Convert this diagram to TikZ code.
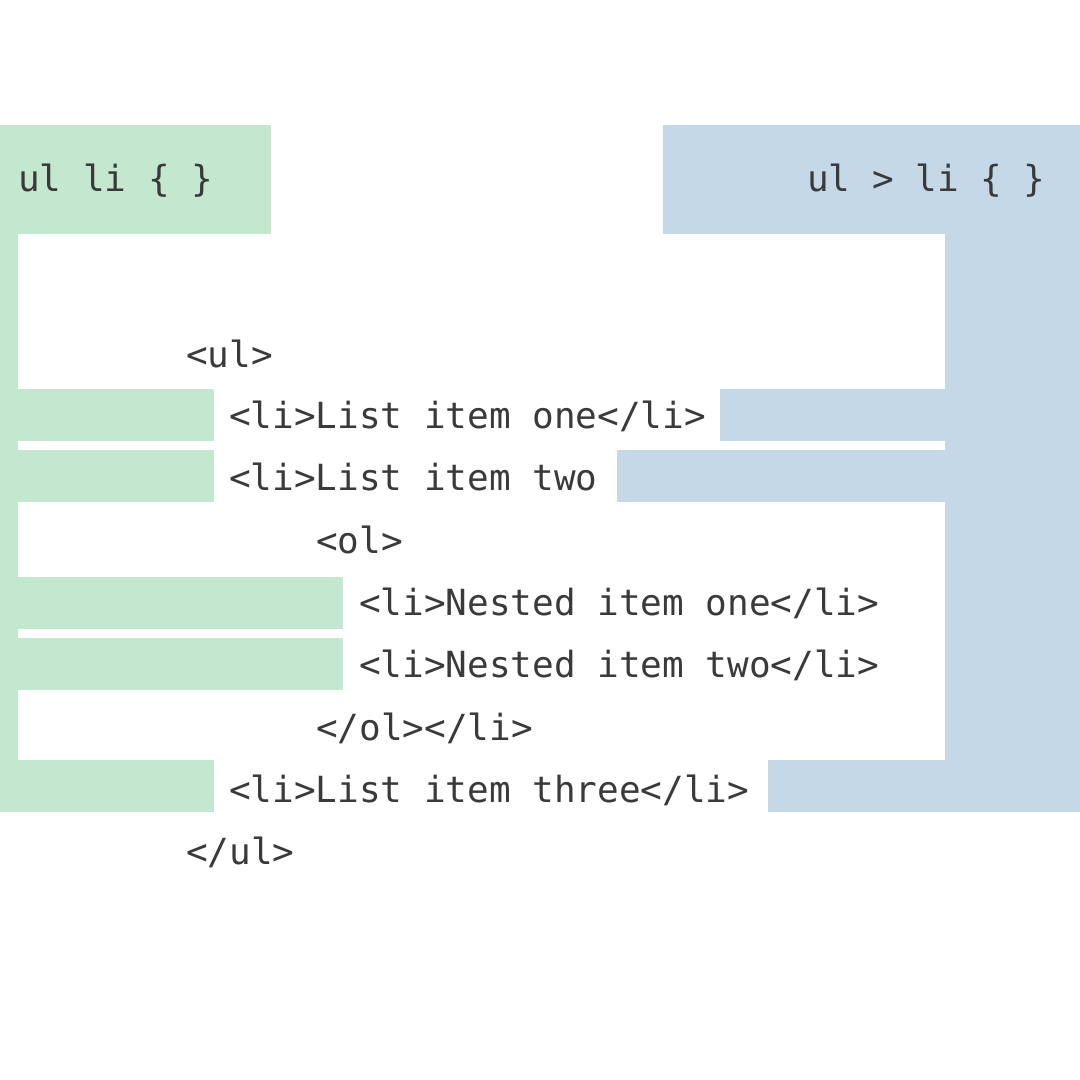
\documentclass[tikz,border=0pt]{standalone}
\usepackage{fontspec}
\setmonofont{DejaVu Sans Mono}
\definecolor{selgreen}{HTML}{C4E7CF}
\definecolor{selblue}{HTML}{C5D8E8}
\definecolor{codegray}{HTML}{3A3A3A}
\tikzset{
  greenarea/.style={fill=selgreen, draw=none},
  bluearea/.style={fill=selblue, draw=none},
  code/.style={anchor=base west, inner sep=0pt, outer sep=0pt, text=codegray,
    font=\ttfamily\fontsize{36}{40}\selectfont},
}
\begin{document}
\begin{tikzpicture}[x=1pt,y=-1pt]
\useasboundingbox (0,0) rectangle (1080,1080);
\fill[white] (0,0) rectangle (1080,1080);
% green (descendant selector)
\fill[greenarea] (0,125) rectangle (271,234);
\fill[greenarea] (0,234) rectangle (18,812);
\fill[greenarea] (18,389) rectangle (214,441);
\fill[greenarea] (18,450) rectangle (214,502);
\fill[greenarea] (18,577) rectangle (343,629);
\fill[greenarea] (18,638) rectangle (343,690);
\fill[greenarea] (18,760) rectangle (214,812);
% blue (child selector)
\fill[bluearea] (663,125) rectangle (1080,234);
\fill[bluearea] (945,234) rectangle (1080,812);
\fill[bluearea] (720,389) rectangle (945,441);
\fill[bluearea] (617,450) rectangle (945,502);
\fill[bluearea] (768,760) rectangle (945,812);
% headers
\node[code] (sel1) at (18,191) {ul li \{ \}};
\node[code] (sel2) at (807,191) {ul > li \{ \}};
% code lines
\node[code] (l1) at (186,367) {<ul>};
\node[code] (l2) at (229,428) {<li>List item one</li>};
\node[code] (l3) at (229,490) {<li>List item two};
\node[code] (l4) at (316,553) {<ol>};
\node[code] (l5) at (359,615) {<li>Nested item one</li>};
\node[code] (l6) at (359,677) {<li>Nested item two</li>};
\node[code] (l7) at (316,740) {</ol></li>};
\node[code] (l8) at (229,802) {<li>List item three</li>};
\node[code] (l9) at (186,864) {</ul>};
\end{tikzpicture}
\end{document}
